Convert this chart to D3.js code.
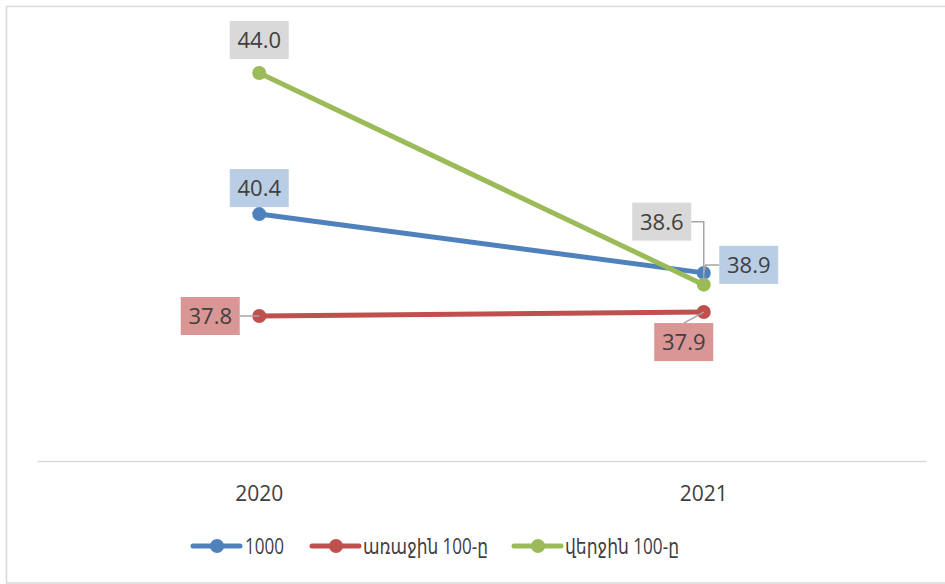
<!DOCTYPE html>
<html><head><meta charset="utf-8">
<script src="https://cdn.jsdelivr.net/npm/d3@7"></script>
<style>
html,body{margin:0;padding:0;background:#fff;}
svg{display:block;}
text{font-family:"Open Sans","DejaVu Sans",sans-serif;fill:#404040;}
</style></head>
<body>
<svg id="c" width="945" height="584"></svg>
<script>
const categories = ["2020", "2021"];
const seriesNames = ["1000", "առաջին 100-ը", "վերջին 100-ը"];
const values1000 = [40.4, 38.9];
const valuesFirst100 = [37.8, 37.9];
const valuesLast100 = [44.0, 38.6];

const colors = ["#4F81BD", "#C0504D", "#9BBB59"];
const labelFills = ["#B9CDE5", "#D99694", "#D9D9D9"];

const series = [
  {name: seriesNames[0], values: values1000, color: colors[0], fill: labelFills[0]},
  {name: seriesNames[1], values: valuesFirst100, color: colors[1], fill: labelFills[1]},
  {name: seriesNames[2], values: valuesLast100, color: colors[2], fill: labelFills[2]}
];

const svg = d3.select("#c");
// chart border
svg.append("rect").attr("x", 6.5).attr("y", 6.5).attr("width", 945).attr("height", 576.5)
  .attr("fill", "#fff").attr("stroke", "#D9D9D9").attr("stroke-width", 1.5);

const x = d3.scaleBand().domain(categories).range([37, 926]).padding(0);
const y = d3.scaleLinear().domain([34.1, 44]).range([461, 73]);
const cx = c => x(c) + x.bandwidth() / 2;

// category axis
const axisG = svg.append("g").attr("transform", "translate(0,461)")
  .call(d3.axisBottom(x).tickSize(0).tickPadding(0));
axisG.select(".domain").attr("stroke", "#D9D9D9").attr("stroke-width", 1.5);
axisG.selectAll(".tick text").attr("dy", null).attr("y", 40)
  .style("font-size", "21px").style("font-family", "'Open Sans','DejaVu Sans',sans-serif").attr("fill", "#404040");

const line = d3.line().x((d, i) => cx(categories[i])).y(d => y(d));

// draw in order: red, blue, green (green on top)
[1, 0, 2].forEach(si => {
  const s = series[si];
  svg.append("path").datum(s.values).attr("d", line)
    .attr("fill", "none").attr("stroke", s.color).attr("stroke-width", 5)
    .attr("stroke-linecap", "round");
  svg.selectAll(null).data(s.values).enter().append("circle")
    .attr("cx", (d, i) => cx(categories[i])).attr("cy", d => y(d)).attr("r", 7)
    .attr("fill", s.color);
});

// data labels: offsets relative to point (box center)
const labelPos = [
  [[0, -26], [45, -8]],
  [[-49, 0], [-20, 30]],
  [[0, -33], [-42, -63]]
];
const bw = 59, bh = 38;
const labelsG = svg.append("g");
series.forEach((s, si) => {
  s.values.forEach((v, i) => {
    const px = cx(categories[i]), py = y(v);
    const [dx, dy] = labelPos[si][i];
    const bx = px + dx, by = py + dy;
    let leader = null;
    if (si === 1 && i === 0) leader = [[bx + bw/2, by], [px, py]];
    if (si === 1 && i === 1) leader = [[bx, by - bh/2], [px, py]];
    if (si === 0 && i === 1) leader = [[bx - bw/2, by], [px + 2, by], [px, py]];
    if (si === 2 && i === 1) leader = [[bx + bw/2, by], [px, by], [px, py - 2]];
    if (leader) {
      labelsG.append("path").attr("d", d3.line()(leader))
        .attr("fill", "none").attr("stroke", "#A6A6A6").attr("stroke-width", 1.5);
    }
    labelsG.append("rect").attr("x", bx - bw/2).attr("y", by - bh/2)
      .attr("width", bw).attr("height", bh).attr("fill", s.fill);
    labelsG.append("text").attr("x", bx).attr("y", by).attr("dy", "0.36em")
      .attr("text-anchor", "middle").style("font-size", "22px")
      .text(d3.format(".1f")(v));
  });
});

// legend
const legendItems = [
  {lx: 193, tx: 245, tw: 39},
  {lx: 312, tx: 363, tw: 125},
  {lx: 514, tx: 565, tw: 114}
];
const ly = 546;
series.forEach((s, si) => {
  const it = legendItems[si];
  const g = svg.append("g");
  g.append("line").attr("x1", it.lx).attr("x2", it.lx + 47).attr("y1", ly).attr("y2", ly)
    .attr("stroke", s.color).attr("stroke-width", 5).attr("stroke-linecap", "round");
  g.append("circle").attr("cx", it.lx + 24).attr("cy", ly).attr("r", 7).attr("fill", s.color);
  g.append("text").attr("x", it.tx).attr("y", ly).attr("dy", "0.36em")
    .style("font-size", "21px").attr("textLength", it.tw).attr("lengthAdjust", "spacingAndGlyphs")
    .text(s.name);
});
</script>
</body></html>
